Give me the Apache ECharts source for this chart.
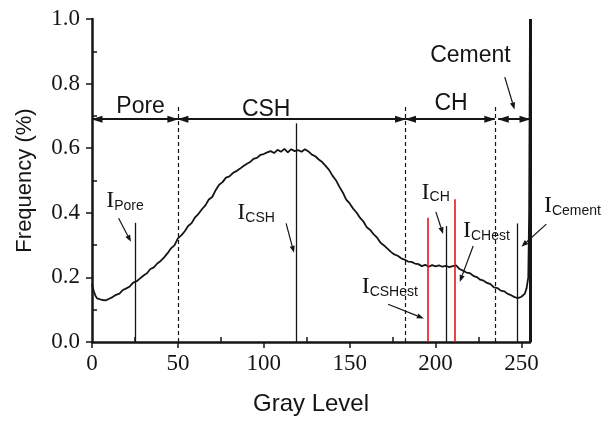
<!DOCTYPE html>
<html>
<head>
<meta charset="utf-8">
<script src="https://cdn.jsdelivr.net/npm/echarts@6/dist/echarts.min.js"></script>
<style>
  html, body { margin: 0; padding: 0; background: #ffffff; }
  #chart { width: 605px; height: 428px; }
</style>
</head>
<body>
<div id="chart"></div>
<script>
  // gray level histogram
  let grayLevel = [
    0, 1, 2, 3, 4, 6, 8, 10, 12, 14,
    16, 18, 20, 22, 24, 26, 28, 30, 32, 34,
    36, 38, 40, 42, 44, 46, 48, 50, 52, 54,
    56, 58, 60, 62, 64, 66, 68, 70, 72, 74,
    76, 78, 80, 82, 84, 86, 88, 90, 92, 94,
    96, 98, 100, 102, 104, 106, 108, 110, 112, 114,
    116, 118, 120, 122, 124, 126, 128, 130, 132, 134,
    136, 138, 140, 142, 144, 146, 148, 150, 152, 154,
    156, 158, 160, 162, 164, 166, 168, 170, 172, 174,
    176, 178, 180, 182, 184, 186, 188, 190, 192, 194,
    196, 198, 200, 202, 204, 206, 208, 210, 212, 214,
    216, 218, 220, 222, 224, 226, 228, 230, 232, 234,
    236, 238, 240, 242, 244, 246, 248, 250, 251, 252,
    253, 254, 254.5, 255
  ];
  let frequency = [
    0.180, 0.158, 0.143, 0.135, 0.132, 0.130, 0.129, 0.134, 0.139, 0.146,
    0.150, 0.161, 0.166, 0.172, 0.184, 0.188, 0.197, 0.206, 0.213, 0.226,
    0.231, 0.243, 0.251, 0.262, 0.275, 0.290, 0.299, 0.321, 0.330, 0.343,
    0.359, 0.368, 0.386, 0.397, 0.411, 0.423, 0.441, 0.449, 0.470, 0.487,
    0.495, 0.509, 0.513, 0.523, 0.529, 0.536, 0.544, 0.551, 0.557, 0.567,
    0.570, 0.579, 0.582, 0.587, 0.591, 0.585, 0.595, 0.589, 0.598, 0.587,
    0.597, 0.591, 0.594, 0.589, 0.597, 0.590, 0.580, 0.575, 0.565, 0.557,
    0.545, 0.533, 0.515, 0.501, 0.481, 0.463, 0.441, 0.429, 0.413, 0.401,
    0.385, 0.373, 0.355, 0.347, 0.333, 0.323, 0.307, 0.299, 0.289, 0.279,
    0.271, 0.267, 0.259, 0.255, 0.249, 0.248, 0.243, 0.241, 0.235, 0.239,
    0.233, 0.238, 0.234, 0.237, 0.233, 0.236, 0.232, 0.235, 0.237, 0.226,
    0.221, 0.215, 0.213, 0.205, 0.201, 0.193, 0.190, 0.183, 0.179, 0.169,
    0.167, 0.159, 0.157, 0.149, 0.145, 0.139, 0.136, 0.140, 0.143, 0.150,
    0.166, 0.200, 0.40, 1.0
  ];

  let xTicks = [0, 50, 100, 150, 200, 250];
  let xMinorTicks = [25, 75, 125, 175, 225];
  let yMinorTicks = [0.1, 0.3, 0.5, 0.7, 0.9];

  // phase ranges on the gray level axis
  let phaseNames = ['Pore', 'CSH', 'CH', 'Cement'];
  let phaseFrom = [0, 50, 182.5, 236.5];
  let phaseTo = [50, 182.5, 234.5, 255];
  let phaseArrowY = 0.69;
  let boundX = [50, 182.5, 234.5];
  let boundTop = 0.73;

  // peak lines (black) and estimated peaks (red)
  let peakX = [25.2, 119, 206.2, 247.7];
  let peakTop = [0.369, 0.677, 0.359, 0.367];
  let estX = [195.4, 211.2];
  let estTop = [0.385, 0.442];

  // annotation labels: [subscript, x, y]
  let peakLabels = [
    ['Pore', 8.3, 0.437],
    ['CSH', 84.6, 0.40],
    ['CH', 191.9, 0.463],
    ['CHest', 216, 0.344],
    ['CSHest', 157, 0.171],
    ['Cement', 263.1, 0.421]
  ];
  // annotation arrows: [x1, y1, x2, y2]
  let pointers = [
    [15.5, 0.383, 22.7, 0.31],
    [113, 0.367, 117.6, 0.276],
    [200.2, 0.403, 204.4, 0.334],
    [221.9, 0.297, 214.1, 0.186],
    [172.4, 0.117, 193.2, 0.073],
    [264.5, 0.365, 250, 0.295],
    [240.3, 0.82, 246, 0.72]
  ];
  // phase name positions: [x, y]
  let phaseLabelPos = [[28.3, 0.728], [101.4, 0.72], [209, 0.739], [220.3, 0.888]];

  let serif = '"Liberation Serif", "Times New Roman", serif';
  let sans = '"Liberation Sans", Arial, sans-serif';
  let ink = '#151515';

  let lines = [];
  phaseNames.forEach(function (n, i) {
    lines.push([
      {coord: [phaseFrom[i], phaseArrowY], symbol: 'triangle', lineStyle: {color: ink, width: 2, type: 'solid'}},
      {coord: [phaseTo[i], phaseArrowY], symbol: 'triangle'}
    ]);
  });
  boundX.forEach(function (x) {
    lines.push([
      {coord: [x, 0], lineStyle: {color: ink, width: 1.2, type: [4, 3]}},
      {coord: [x, boundTop]}
    ]);
  });
  peakX.forEach(function (x, i) {
    lines.push([
      {coord: [x, 0], lineStyle: {color: ink, width: 1.3, type: 'solid'}},
      {coord: [x, peakTop[i]]}
    ]);
  });
  estX.forEach(function (x, i) {
    lines.push([
      {coord: [x, 0], lineStyle: {color: '#e8141c', width: 1.6, type: 'solid'}},
      {coord: [x, estTop[i]]}
    ]);
  });
  lines.push([
    {coord: [255, 0], lineStyle: {color: ink, width: 3, type: 'solid'}},
    {coord: [255, 1]}
  ]);

  let myChart = echarts.init(document.getElementById('chart'));

  myChart.setOption({
    animation: false,
    backgroundColor: '#ffffff',
    grid: {left: 92, right: 75, top: 19, bottom: 86},
    xAxis: [
      {
        type: 'value', min: 0, max: 255, position: 'bottom',
        name: 'Gray Level', nameLocation: 'middle', nameGap: 50,
        nameTextStyle: {fontFamily: sans, fontSize: 24, color: ink},
        axisLine: {show: true, lineStyle: {color: ink, width: 2.5}},
        axisTick: {show: true, customValues: xTicks, length: 6, lineStyle: {color: ink, width: 1.5}},
        axisLabel: {customValues: xTicks, margin: 10, fontFamily: serif, fontSize: 23, color: ink},
        splitLine: {show: false}
      },
      {
        type: 'value', min: 0, max: 255, position: 'bottom',
        axisLine: {show: false},
        axisTick: {show: true, inside: true, customValues: xMinorTicks, length: 5, lineStyle: {color: ink, width: 1.5}},
        axisLabel: {show: false},
        splitLine: {show: false}
      }
    ],
    yAxis: [
      {
        type: 'value', min: 0, max: 1, interval: 0.2, position: 'left',
        name: 'Frequency (%)', nameLocation: 'middle', nameGap: 56,
        nameTextStyle: {fontFamily: sans, fontSize: 22, color: ink},
        axisLine: {show: true, lineStyle: {color: ink, width: 2.5}},
        axisTick: {show: true, length: 6, lineStyle: {color: ink, width: 1.5}},
        axisLabel: {margin: 12, fontFamily: serif, fontSize: 23, color: ink,
          formatter: function (v) { return v.toFixed(1); }},
        splitLine: {show: false}
      },
      {
        type: 'value', min: 0, max: 1, position: 'left',
        axisLine: {show: false},
        axisTick: {show: true, inside: true, customValues: yMinorTicks, length: 5, lineStyle: {color: ink, width: 1.5}},
        axisLabel: {show: false},
        splitLine: {show: false}
      }
    ],
    series: [
      {
        type: 'line',
        xAxisIndex: 0, yAxisIndex: 0,
        data: grayLevel.map(function (g, i) { return [g, frequency[i]]; }),
        showSymbol: false, symbol: 'none', clip: false,
        lineStyle: {color: ink, width: 1.8},
        markLine: {
          silent: true, animation: false,
          symbol: 'none', symbolSize: [7, 11],
          symbolOffset: [[0, 5], [0, 5]],
          label: {show: false},
          emphasis: {disabled: true},
          data: lines
        }
      }
    ]
  });

  // annotations placed through the axis scales
  function px(x, y) {
    return myChart.convertToPixel({seriesIndex: 0}, [x, y]);
  }
  let g = [];
  pointers.forEach(function (a) {
    let p = px(a[0], a[1]);
    let q = px(a[2], a[3]);
    let ang = Math.atan2(q[1] - p[1], q[0] - p[0]);
    let len = 7, half = 2.6;
    let bx = q[0] - len * Math.cos(ang), by = q[1] - len * Math.sin(ang);
    g.push({type: 'line', silent: true, shape: {x1: p[0], y1: p[1], x2: bx, y2: by},
      style: {stroke: ink, lineWidth: 1.2}});
    g.push({type: 'polygon', silent: true, shape: {points: [
      [q[0], q[1]],
      [bx - half * Math.sin(ang), by + half * Math.cos(ang)],
      [bx + half * Math.sin(ang), by - half * Math.cos(ang)]
    ]}, style: {fill: ink}});
  });
  peakLabels.forEach(function (l) {
    let p = px(l[1], l[2]);
    g.push({type: 'text', silent: true, x: p[0], y: p[1], style: {
      text: '{i|I}{s|' + l[0] + '}',
      align: 'left', verticalAlign: 'middle',
      rich: {
        i: {fontFamily: serif, fontSize: 24, lineHeight: 24, verticalAlign: 'top', fill: ink},
        s: {fontFamily: sans, fontSize: 14, lineHeight: 14, verticalAlign: 'bottom', padding: [19, 0, 0, 0], fill: ink}
      }
    }});
  });
  phaseNames.forEach(function (n, i) {
    let p = px(phaseLabelPos[i][0], phaseLabelPos[i][1]);
    g.push({type: 'text', silent: true, x: p[0], y: p[1], style: {
      text: n, align: 'center', verticalAlign: 'middle',
      font: '23px ' + sans, fill: ink
    }});
  });
  myChart.setOption({graphic: g});
</script>
</body>
</html>
